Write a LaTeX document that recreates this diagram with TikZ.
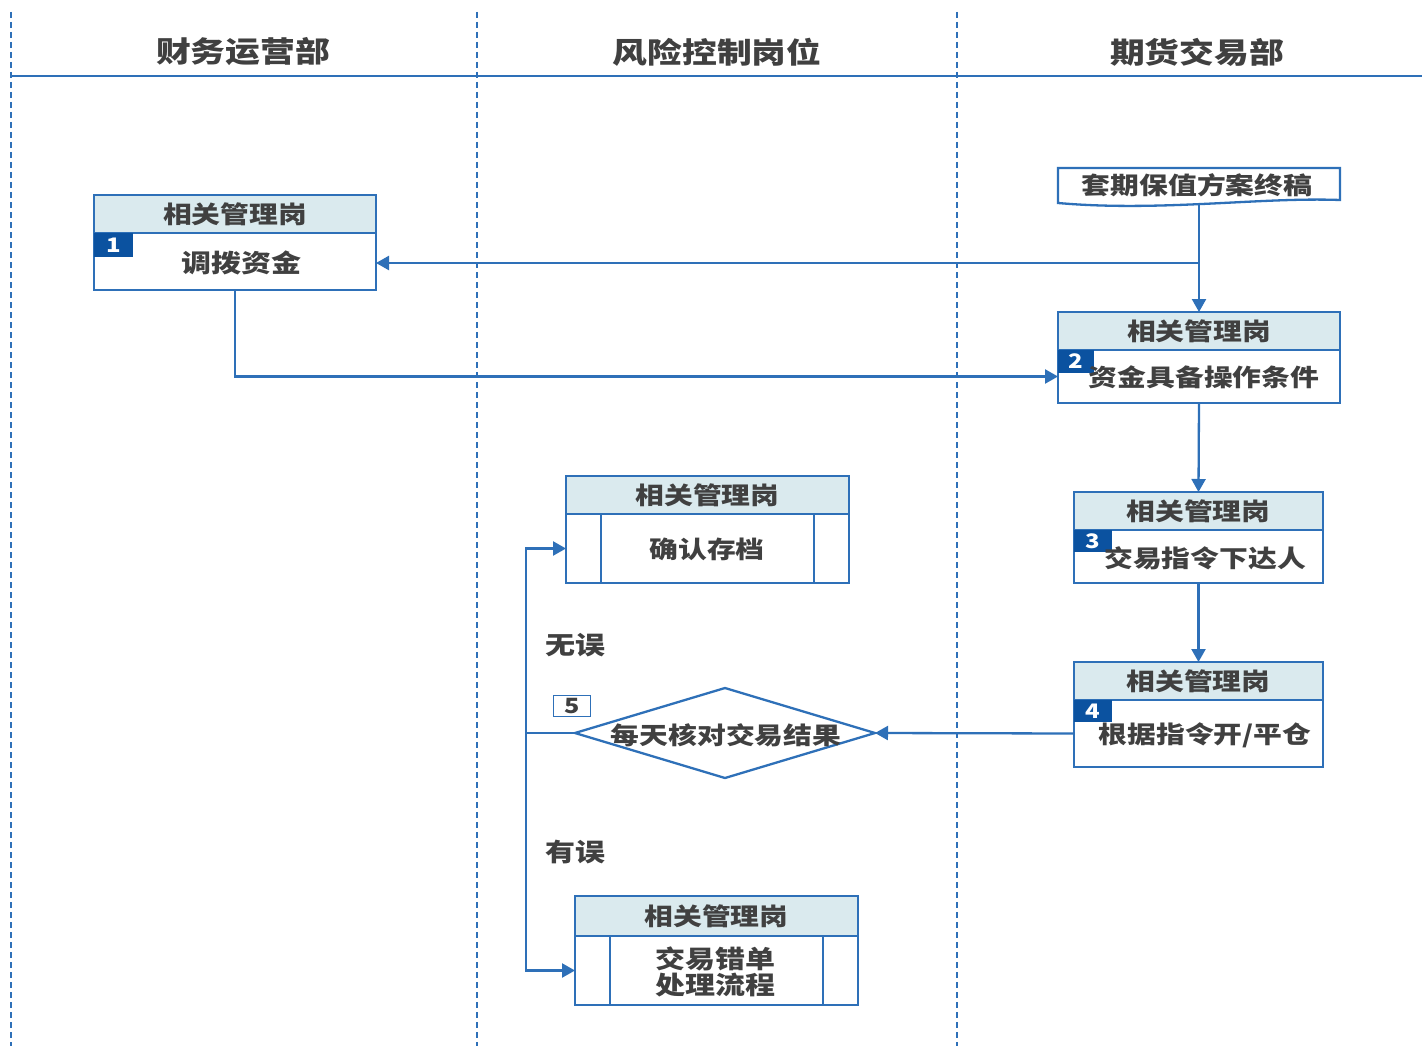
\documentclass[tikz,border=0pt]{standalone}
\usepackage{fontspec}
\setmainfont{Noto Sans CJK SC}[FakeStretch=1.2]
\usetikzlibrary{arrows.meta,shapes.geometric}
\definecolor{ln}{HTML}{2E70B8}
\definecolor{hd}{HTML}{DAEAEE}
\definecolor{bd}{HTML}{0B52A0}
\definecolor{tx}{HTML}{404040}
\begin{document}
\begin{tikzpicture}[x=1pt,y=-1pt,
 every node/.style={inner sep=0pt, outer sep=0pt, text=tx, font=\bfseries},
 lane/.style={ln, line width=1.8pt, dash pattern=on 6pt off 4pt},
 conn/.style={ln, line width=2.3pt, -{Triangle[length=13pt,width=14pt]}},
 plain/.style={ln, line width=2.3pt},
 hdr/.style={draw=ln, line width=2.3pt, fill=hd, anchor=north west, font=\fontsize{24}{26}\bfseries},
 bodybox/.style={draw=ln, line width=2.3pt, fill=white, anchor=north west},
 badge/.style={fill=bd, text=white, anchor=north west, font=\fontsize{20}{22}\bfseries},
 txt/.style={font=\fontsize{25}{26}\bfseries, align=center},
 stxt/.style={font=\fontsize{24}{26}\bfseries, align=center},
 title/.style={font=\fontsize{29}{30}\bfseries},
 sub/.style={ln, line width=2.3pt},
]
\useasboundingbox (0,0) rectangle (1422,1046);
\fill[white] (0,0) rectangle (1422,1046);
% lanes
\draw[lane] (11,12) -- (11,1046);
\draw[lane] (477,12) -- (477,1046);
\draw[lane] (957,12) -- (957,1046);
\draw[ln, line width=2pt] (11,76) -- (1422,76);
\node[title] (t1) at (243,52) {财务运营部};
\node[title] (t2) at (717,52) {风险控制岗位};
\node[title] (t3) at (1197,52) {期货交易部};

% box 1
\node[bodybox, minimum width=282pt, minimum height=57pt] (b1) at (94,233) {};
\node[hdr, minimum width=282pt, minimum height=38pt] (b1h) at (94,195) {相关管理岗};
\node[badge, minimum width=39pt, minimum height=24pt] (n1) at (94,233) {1};
\node[txt] (b1t) at (241,263) {调拨资金};

% document
\node[minimum width=282pt, minimum height=36pt, anchor=north west] (doc) at (1058,168) {};
\draw[ln, line width=2.3pt, fill=white] (doc.north west) -- (doc.north east) -- (1340,200)
  .. controls (1260,197) and (1160,212) .. (1058,203) -- cycle;
\node[font=\fontsize{24}{26}\bfseries] (doct) at (1197,185) {套期保值方案终稿};

% box 2
\node[bodybox, minimum width=282pt, minimum height=53pt] (b2) at (1058,350) {};
\node[hdr, minimum width=282pt, minimum height=38pt] (b2h) at (1058,312) {相关管理岗};
\node[badge, minimum width=36pt, minimum height=23pt] (n2) at (1058,350) {2};
\node[stxt] (b2t) at (1204,377) {资金具备操作条件};

% box 3
\node[bodybox, minimum width=249pt, minimum height=53pt] (b3) at (1074,530) {};
\node[hdr, minimum width=249pt, minimum height=38pt] (b3h) at (1074,492) {相关管理岗};
\node[badge, minimum width=38pt, minimum height=22pt] (n3) at (1074,530) {3};
\node[stxt] (b3t) at (1205,558) {交易指令下达人};

% box 4
\node[bodybox, minimum width=249pt, minimum height=67pt] (b4) at (1074,700) {};
\node[hdr, minimum width=249pt, minimum height=38pt] (b4h) at (1074,662) {相关管理岗};
\node[badge, minimum width=38pt, minimum height=22pt] (n4) at (1074,700) {4};
\node[stxt] (b4t) at (1205,735) {根据指令开/平仓};

% confirm box
\node[bodybox, minimum width=283pt, minimum height=69pt] (cf) at (566,514) {};
\node[hdr, minimum width=283pt, minimum height=38pt] (cfh) at (566,476) {相关管理岗};
\draw[sub] (601,514) -- (601,583);
\draw[sub] (814,514) -- (814,583);
\node[stxt] (cft) at (707,549) {确认存档};

% error box
\node[bodybox, minimum width=283pt, minimum height=69pt] (er) at (575,936) {};
\node[hdr, minimum width=283pt, minimum height=40pt] (erh) at (575,896) {相关管理岗};
\draw[sub] (610,936) -- (610,1005);
\draw[sub] (823,936) -- (823,1005);
\node[txt] (ert) at (715,972) {交易错单\\处理流程};

% diamond
\node[diamond, draw=ln, line width=2.3pt, fill=white, minimum width=300pt, minimum height=90pt] (dia) at (725,733) {};
\node[font=\fontsize{24}{26}\bfseries] (diat) at (726,735) {每天核对交易结果};
\node[draw=ln, line width=1.8pt, minimum width=37pt, minimum height=21pt, font=\fontsize{21}{22}\bfseries] (n5) at (572,706) {5};

% labels
\node[txt] (ok) at (575,645) {无误};
\node[txt] (bad) at (575,852) {有误};

% connectors
\coordinate (j1) at (1199,263);
\coordinate (j2) at (526,733);
\draw[conn] (doc.south) -- (b2h.north);
\draw[conn] (j1) -- (j1 -| b1.east);
\draw[conn] (b1.south) |- (b2.west);
\draw[conn] (b2.south) -- (b3h.north);
\draw[conn] (b3.south) -- (b4h.north);
\draw[conn] (b4.west) -- (dia.east);
\draw[plain] (dia.west) -- (j2);
\draw[conn] (j2) |- (cf.west);
\draw[conn] (j2) |- (er.west);
\end{tikzpicture}
\end{document}
